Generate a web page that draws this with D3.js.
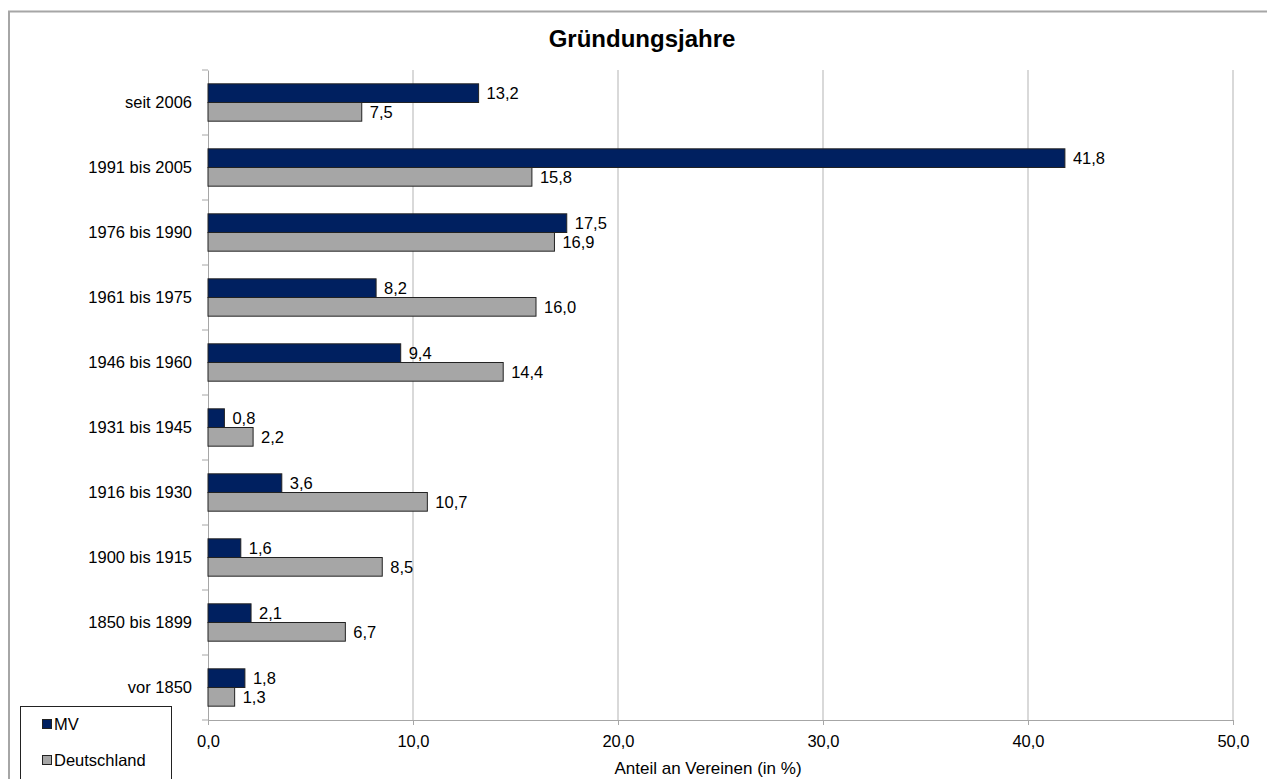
<!DOCTYPE html>
<html><head><meta charset="utf-8">
<script src="https://cdn.jsdelivr.net/npm/d3@7"></script>
<style>
body{margin:0;background:#fff;}
svg{display:block;font-family:"Liberation Sans",Arial,sans-serif;}
</style></head><body>
<svg id="c" width="1267" height="779"></svg>
<script>
const categories = ["seit 2006","1991 bis 2005","1976 bis 1990","1961 bis 1975","1946 bis 1960","1931 bis 1945","1916 bis 1930","1900 bis 1915","1850 bis 1899","vor 1850"];
const seriesNames = ["MV","Deutschland"];
const mvValues = [13.2,41.8,17.5,8.2,9.4,0.8,3.6,1.6,2.1,1.8];
const deValues = [7.5,15.8,16.9,16.0,14.4,2.2,10.7,8.5,6.7,1.3];
const xTicks = [0,10,20,30,40,50];
const colors = ["#002060","#a6a6a6"];
const FS = 16.5;

const svg = d3.select("#c");
const W=1267,H=779;
svg.append("path").attr("d",`M9,${H} L9,11.5 L${W},11.5`).attr("fill","none").attr("stroke","#a6a6a6").attr("stroke-width",2);

const L=208,R=1233,T=70,B=720;
const x = d3.scaleLinear().domain([0,50]).range([L,R]);
const y = d3.scaleBand().domain(categories).range([T,B]).paddingInner(0).paddingOuter(0);
const inner = d3.scaleBand().domain(seriesNames).range([0,y.bandwidth()]).paddingInner(0).paddingOuter(0.74);

svg.append("text").attr("x",642).attr("y",47).attr("text-anchor","middle").attr("font-weight","bold").attr("font-size",24).text("Gründungsjahre");

svg.append("g").selectAll("line").data(xTicks.slice(1)).join("line")
 .attr("x1",d=>x(d)).attr("x2",d=>x(d)).attr("y1",T).attr("y2",B).attr("stroke","#b3b3b3").attr("stroke-width",1);

const xa = svg.append("g").attr("transform",`translate(0,${B})`)
 .call(d3.axisBottom(x).tickValues(xTicks).tickSize(5).tickPadding(10).tickFormat(d=>d3.format(".1f")(d).replace(".",",")));
xa.select(".domain").attr("stroke","#a6a6a6");
xa.selectAll(".tick line").attr("stroke","#a6a6a6");
xa.selectAll("text").attr("font-size",FS).attr("fill","#000").attr("font-family","Liberation Sans, Arial, sans-serif");

const ya = svg.append("g").attr("transform",`translate(${L},0)`)
 .call(d3.axisLeft(y).tickSize(0).tickPadding(16));
ya.select(".domain").attr("stroke","#a6a6a6");
ya.selectAll("text").attr("font-size",FS).attr("fill","#000").attr("font-family","Liberation Sans, Arial, sans-serif");
svg.append("g").selectAll("line").data(d3.range(categories.length+1)).join("line")
 .attr("x1",L-6).attr("x2",L).attr("y1",i=>T+i*y.step()).attr("y2",i=>T+i*y.step()).attr("stroke","#a6a6a6");

const rows = categories.map((c,i)=>({c, vals:[mvValues[i],deValues[i]]}));
const fmt = v=>d3.format(".1f")(v).replace(".",",");
rows.forEach(r=>{
  r.vals.forEach((v,j)=>{
    const yy = y(r.c)+inner(seriesNames[j]);
    svg.append("rect").attr("x",x(0)).attr("y",yy).attr("width",x(v)-x(0)).attr("height",inner.bandwidth())
      .attr("fill",colors[j]).attr("stroke","#222").attr("stroke-width",1);
    svg.append("text").attr("x",x(v)+8).attr("y",yy+inner.bandwidth()/2).attr("dy","0.36em")
      .attr("font-size",FS).text(fmt(v));
  });
});

svg.append("text").attr("x",708).attr("y",774).attr("text-anchor","middle").attr("font-size",17).text("Anteil an Vereinen (in %)");

svg.append("rect").attr("x",20.5).attr("y",706.5).attr("width",151).attr("height",80).attr("fill","#fff").attr("stroke","#222");
seriesNames.forEach((n,j)=>{
  const ly = 724 + j*36;
  svg.append("rect").attr("x",42.5).attr("y",ly-4.5).attr("width",9).attr("height",9).attr("fill",colors[j]).attr("stroke","#222");
  svg.append("text").attr("x",54).attr("y",ly).attr("dy","0.36em").attr("font-size",FS).text(n);
});
</script></body></html>
